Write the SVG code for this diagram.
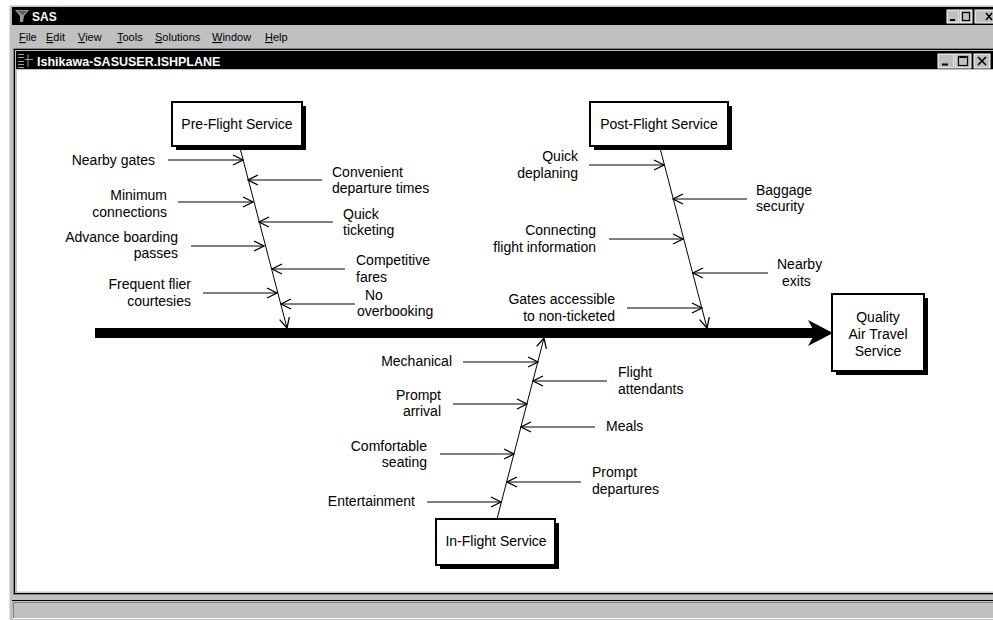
<svg xmlns="http://www.w3.org/2000/svg" width="993" height="620" viewBox="0 0 993 620">
  <defs>
    <style>
      .lbl { font-family: "Liberation Sans", Arial, sans-serif; font-size: 14px; fill: #000; }
      .end { text-anchor: end; }
      .mid { text-anchor: middle; }
      .menu { font-family: "Liberation Sans", Arial, sans-serif; font-size: 11px; fill: #000; }
      .ttl { font-family: "Liberation Sans", Arial, sans-serif; font-weight: bold; fill: #fff; }
      .box { fill: #fff; stroke: #000; stroke-width: 2; }
      .shadow { fill: #000; }
      .cause { fill: none; stroke: #000; stroke-width: 1; marker-end: url(#v); }
      .bone { fill: none; stroke: #000; stroke-width: 1; marker-end: url(#v); }
      .btn { fill: #c0c0c0; stroke: #fff; stroke-width: 1; }
    </style>
    <marker id="v" viewBox="-11 -6 12 12" refX="0" refY="0" markerWidth="12" markerHeight="12" markerUnits="userSpaceOnUse" orient="auto">
      <path d="M-10,-5 L0,0 L-10,5" fill="none" stroke="#000" stroke-width="1.3"/>
    </marker>
  </defs>

  <!-- page background -->
  <rect x="0" y="0" width="993" height="620" fill="#fff"/>

  <!-- application frame -->
  <g id="app-window">
    <rect x="9" y="5" width="990" height="620" fill="#c0c0c0"/>
    <line x1="9.5" y1="5" x2="9.5" y2="620" stroke="#dfdfdf"/>
    <line x1="9" y1="5.5" x2="993" y2="5.5" stroke="#dfdfdf"/>
    <rect x="12" y="7" width="985" height="18" fill="#000"/>
    <!-- app icon -->
    <path d="M15,10 L29,10 L24,16 L23,22 L20,22 L20,16 Z" fill="#9a9a9a"/>
    <path d="M17,11 L27,11 L23,15 Z" fill="#5a5a5a"/>
    <text x="32" y="21" class="ttl" font-size="12">SAS</text>
    <!-- title buttons -->
    <rect x="947" y="10" width="12" height="13" class="btn"/>
    <line x1="950" y1="20" x2="955" y2="20" stroke="#000" stroke-width="2"/>
    <rect x="960" y="10" width="12" height="13" class="btn"/>
    <rect x="962.5" y="12.5" width="7" height="8" fill="none" stroke="#000" stroke-width="1.2"/>
    <rect x="975" y="10" width="30" height="13" class="btn"/>
    <path d="M986,13 L992,20 M992,13 L986,20" stroke="#000" stroke-width="1.5"/>

    <!-- menu bar -->
    <g class="menu">
      <text x="19" y="41"><tspan text-decoration="underline">F</tspan>ile</text>
      <text x="46" y="41"><tspan text-decoration="underline">E</tspan>dit</text>
      <text x="78" y="41"><tspan text-decoration="underline">V</tspan>iew</text>
      <text x="117" y="41"><tspan text-decoration="underline">T</tspan>ools</text>
      <text x="155" y="41"><tspan text-decoration="underline">S</tspan>olutions</text>
      <text x="212" y="41"><tspan text-decoration="underline">W</tspan>indow</text>
      <text x="265" y="41"><tspan text-decoration="underline">H</tspan>elp</text>
    </g>
  </g>

  <!-- document window -->
  <g id="doc-window">
    <rect x="12" y="48" width="990" height="551" fill="#c0c0c0"/>
    <rect x="13.5" y="48.5" width="990" height="546" fill="none" stroke="#808080"/>
    <rect x="14.5" y="49.5" width="990" height="544" fill="none" stroke="#000"/>
    <rect x="16" y="51" width="980" height="18" fill="#000"/>
    <!-- document icon -->
    <g stroke="#9a9a9a" stroke-width="1">
      <path d="M18,54.5 H24 M18,57.5 H24 M18,61.5 H24 M18,64.5 H24 M18,67.5 H24"/>
      <path d="M25,59.5 H33 M28,54.5 V67"/>
    </g>
    <text x="37" y="66" class="ttl" font-size="12.5">Ishikawa-SASUSER.ISHPLANE</text>
    <!-- title buttons -->
    <rect x="938" y="54" width="16" height="14" class="btn"/>
    <line x1="942" y1="64.5" x2="948" y2="64.5" stroke="#000" stroke-width="2"/>
    <rect x="955" y="54" width="16" height="14" class="btn"/>
    <rect x="958.5" y="56.5" width="9" height="9" fill="none" stroke="#000" stroke-width="1.2"/>
    <path d="M959.5,57.5 H966.5" stroke="#000" stroke-width="1"/>
    <rect x="974" y="54" width="16" height="14" class="btn"/>
    <path d="M978,57 L986,65 M986,57 L978,65" stroke="#000" stroke-width="1.6"/>
    <!-- drawing area -->
    <rect x="17" y="70" width="980" height="521" fill="#fff"/>
    <line x1="17" y1="591.5" x2="993" y2="591.5" stroke="#dfdfdf"/>
  </g>

  <!-- status bar -->
  <g id="status-bar">
    <rect x="12" y="600" width="985" height="20" fill="#c0c0c0"/>
    <line x1="12" y1="600.5" x2="993" y2="600.5" stroke="#000"/>
    <line x1="13" y1="602.5" x2="993" y2="602.5" stroke="#808080"/>
    <line x1="13.5" y1="602" x2="13.5" y2="618" stroke="#808080"/>
    <line x1="13" y1="618.5" x2="993" y2="618.5" stroke="#fff"/>
  </g>

  <!-- connectors: spine, bones and cause arrows -->
  <g id="connectors">
    <rect x="95" y="328" width="722" height="10" fill="#000"/>
    <polygon points="808,320 833,333 808,346 815,333" fill="#000"/>

    <line x1="240" y1="148" x2="287" y2="328" class="bone"/>
    <line x1="660" y1="148" x2="707" y2="328" class="bone"/>
    <line x1="497" y1="519" x2="544" y2="338" class="bone"/>

    <!-- pre-flight causes -->
    <line x1="168" y1="160" x2="243" y2="160" class="cause"/>
    <line x1="322" y1="180" x2="248" y2="180" class="cause"/>
    <line x1="178" y1="202" x2="253" y2="202" class="cause"/>
    <line x1="333" y1="222" x2="259" y2="222" class="cause"/>
    <line x1="191" y1="246" x2="264" y2="246" class="cause"/>
    <line x1="345" y1="269" x2="272" y2="269" class="cause"/>
    <line x1="203" y1="293" x2="277" y2="293" class="cause"/>
    <line x1="355" y1="304" x2="281" y2="304" class="cause"/>

    <!-- post-flight causes -->
    <line x1="589" y1="165" x2="664" y2="165" class="cause"/>
    <line x1="747" y1="199" x2="673" y2="199" class="cause"/>
    <line x1="609" y1="239" x2="683" y2="239" class="cause"/>
    <line x1="768" y1="273" x2="693" y2="273" class="cause"/>
    <line x1="627" y1="308" x2="702" y2="308" class="cause"/>

    <!-- in-flight causes -->
    <line x1="463" y1="362" x2="538" y2="362" class="cause"/>
    <line x1="607" y1="381" x2="533" y2="381" class="cause"/>
    <line x1="453" y1="404" x2="527" y2="404" class="cause"/>
    <line x1="595" y1="427" x2="521" y2="427" class="cause"/>
    <line x1="440" y1="454" x2="514" y2="454" class="cause"/>
    <line x1="581" y1="482" x2="507" y2="482" class="cause"/>
    <line x1="427" y1="502" x2="501" y2="502" class="cause"/>
  </g>

  <!-- category nodes -->
  <g id="pre-flight">
    <rect x="176" y="106" width="130" height="44" class="shadow"/>
    <rect x="172" y="102" width="130" height="44" class="box"/>
    <text x="237" y="129" class="lbl mid">Pre-Flight Service</text>
  </g>
  <g id="post-flight">
    <rect x="594" y="106" width="138" height="44" class="shadow"/>
    <rect x="590" y="102" width="138" height="44" class="box"/>
    <text x="659" y="129" class="lbl mid">Post-Flight Service</text>
  </g>
  <g id="in-flight">
    <rect x="440" y="523" width="119" height="46" class="shadow"/>
    <rect x="436" y="519" width="119" height="46" class="box"/>
    <text x="496" y="546" class="lbl mid">In-Flight Service</text>
  </g>
  <g id="quality">
    <rect x="836" y="298" width="92" height="77" class="shadow"/>
    <rect x="832" y="294" width="92" height="77" class="box"/>
    <text x="878" y="322" class="lbl mid">Quality</text>
    <text x="878" y="339" class="lbl mid">Air Travel</text>
    <text x="878" y="356" class="lbl mid">Service</text>
  </g>

  <!-- cause labels -->
  <g id="pre-flight-causes" class="lbl">
    <g id="c-nearby-gates"><text x="155" y="165" class="end">Nearby gates</text></g>
    <g id="c-min-connections"><text x="167" y="200" class="end">Minimum</text><text x="167" y="217" class="end">connections</text></g>
    <g id="c-advance-boarding"><text x="178" y="242" class="end">Advance boarding</text><text x="178" y="258" class="end">passes</text></g>
    <g id="c-frequent-flier"><text x="191" y="289" class="end">Frequent flier</text><text x="191" y="306" class="end">courtesies</text></g>
    <g id="c-departure-times"><text x="332" y="177">Convenient</text><text x="332" y="193">departure times</text></g>
    <g id="c-quick-ticketing"><text x="343" y="219">Quick</text><text x="343" y="235">ticketing</text></g>
    <g id="c-fares"><text x="356" y="265">Competitive</text><text x="356" y="282">fares</text></g>
    <g id="c-overbooking"><text x="365" y="300">No</text><text x="357" y="316">overbooking</text></g>
  </g>
  <g id="post-flight-causes" class="lbl">
    <g id="c-deplaning"><text x="578" y="161" class="end">Quick</text><text x="578" y="178" class="end">deplaning</text></g>
    <g id="c-connecting"><text x="596" y="235" class="end">Connecting</text><text x="596" y="252" class="end">flight information</text></g>
    <g id="c-gates-access"><text x="615" y="304" class="end">Gates accessible</text><text x="615" y="321" class="end">to non-ticketed</text></g>
    <g id="c-baggage"><text x="756" y="195">Baggage</text><text x="756" y="211">security</text></g>
    <g id="c-exits"><text x="777" y="269">Nearby</text><text x="782" y="286">exits</text></g>
  </g>
  <g id="in-flight-causes" class="lbl">
    <g id="c-mechanical"><text x="452" y="366" class="end">Mechanical</text></g>
    <g id="c-arrival"><text x="441" y="400" class="end">Prompt</text><text x="441" y="416" class="end">arrival</text></g>
    <g id="c-seating"><text x="427" y="451" class="end">Comfortable</text><text x="427" y="467" class="end">seating</text></g>
    <g id="c-entertainment"><text x="415" y="506" class="end">Entertainment</text></g>
    <g id="c-attendants"><text x="618" y="377">Flight</text><text x="618" y="394">attendants</text></g>
    <g id="c-meals"><text x="606" y="431">Meals</text></g>
    <g id="c-departures"><text x="592" y="477">Prompt</text><text x="592" y="494">departures</text></g>
  </g>
</svg>
